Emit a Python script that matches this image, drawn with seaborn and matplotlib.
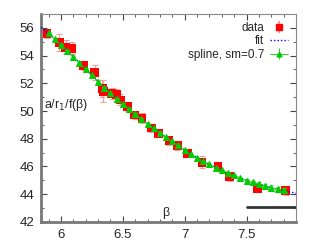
import numpy as np
import pandas as pd
import matplotlib
matplotlib.use("Agg")
import matplotlib.pyplot as plt
import seaborn as sns

# measured points
beta_data = [5.887, 5.986, 6.038, 6.089, 6.183, 6.274, 6.333, 6.344, 6.41, 6.449, 6.48, 6.54,
             6.597, 6.655, 6.731, 6.787, 6.873, 6.941, 7.022, 7.14, 7.269, 7.363, 7.589, 7.817]
ratio_data = [55.59, 54.94, 54.6, 54.53, 53.26, 52.78, 51.62, 51.43, 51.29, 51.17, 50.8, 50.32,
              49.72, 49.48, 48.78, 48.4, 47.87, 47.51, 46.96, 46.31, 46.0, 45.27, 44.43, 44.24]
ratio_err = [0.3, 0.6, 0.5, 0.45, 0.3, 0.55, 0.6, 0.8, 0.4, 0.45, 0.4, 0.35,
             0.3, 0.35, 0.3, 0.3, 0.3, 0.35, 0.3, 0.42, 0.3, 0.3, 0.3, 0.3]

# fit curve
beta_fit = [5.84, 5.9, 6.0, 6.1, 6.2, 6.3, 6.4, 6.5, 6.6, 6.7, 6.8, 6.9,
            7.0, 7.1, 7.2, 7.3, 7.4, 7.5, 7.6, 7.7, 7.8, 7.9]
ratio_fit = [56.05, 55.6, 54.77, 53.92, 53.04, 52.15, 51.28, 50.5, 49.78, 49.08, 48.43, 47.8,
             47.2, 46.65, 46.15, 45.72, 45.33, 44.98, 44.7, 44.46, 44.26, 44.07]

# smoothing spline
beta_spl = [5.9, 5.95, 6.0, 6.05, 6.1, 6.15, 6.2, 6.25, 6.3, 6.35, 6.4, 6.45, 6.5,
            6.55, 6.6, 6.65, 6.7, 6.75, 6.8, 6.85, 6.9, 6.95, 7.0, 7.05, 7.1, 7.15,
            7.2, 7.25, 7.3, 7.35, 7.4, 7.45, 7.5, 7.55, 7.6, 7.65, 7.7, 7.75, 7.8]
ratio_spl = [55.6, 55.2, 54.77, 54.35, 53.9, 53.46, 53.02, 52.57, 52.12, 51.68, 51.27, 50.87, 50.5,
             50.17, 49.78, 49.42, 49.08, 48.75, 48.43, 48.1, 47.81, 47.52, 47.2, 46.88, 46.6, 46.38,
             46.15, 45.92, 45.72, 45.53, 45.35, 45.17, 44.98, 44.85, 44.73, 44.6, 44.48, 44.37, 44.27]
spl_err = [0.1, 0.06, 0.05, 0.05, 0.05, 0.05, 0.05, 0.05, 0.05, 0.05, 0.05, 0.05, 0.05,
           0.05, 0.05, 0.05, 0.05, 0.05, 0.05, 0.05, 0.05, 0.05, 0.05, 0.05, 0.05, 0.05,
           0.05, 0.05, 0.05, 0.05, 0.06, 0.07, 0.08, 0.1, 0.12, 0.14, 0.16, 0.18, 0.2]

sns.set_style("ticks")
plt.rcParams['font.family'] = ['Liberation Sans', 'DejaVu Sans']
plt.rcParams['font.size'] = 9

fig = plt.figure(figsize=(3.16, 2.46), dpi=100)
ax = fig.add_axes([0.13, 0.098, 0.807, 0.845])

df_fit = pd.DataFrame({'beta': beta_fit, 'r': ratio_fit})
df_spl = pd.DataFrame({'beta': beta_spl, 'r': ratio_spl})
df_dat = pd.DataFrame({'beta': beta_data, 'r': ratio_data})

ax.errorbar(beta_data, ratio_data, yerr=ratio_err, fmt='none', ecolor='#f4a0a0',
            elinewidth=0.8, capsize=2, capthick=0.8, zorder=2)
sns.scatterplot(data=df_dat, x='beta', y='r', marker='s', color='red', s=40,
                edgecolor='none', ax=ax, zorder=3)
sns.lineplot(data=df_fit, x='beta', y='r', color='blue', lw=1, ls=(0, (1, 1.5)),
             ax=ax, zorder=4)
ax.errorbar(beta_spl, ratio_spl, yerr=spl_err, fmt='none', ecolor='#66dd66',
            elinewidth=0.6, capsize=1.5, zorder=4)
sns.lineplot(data=df_spl, x='beta', y='r', color='#00cc00', lw=0.6, marker='^',
             markersize=5, markeredgecolor='#00cc00', ax=ax, zorder=5)

ax.plot([7.5, 7.9], [43.08, 43.08], color='#333333', lw=2)

ax.set_xlim(5.84, 7.9)
ax.set_ylim(42, 57)
ax.set_xticks([6, 6.5, 7, 7.5])
ax.set_xticklabels(['6', '6.5', '7', '7.5'])
ax.set_yticks([42, 44, 46, 48, 50, 52, 54, 56])
ax.set_xticks(np.arange(5.9, 7.85, 0.1), minor=True)
ax.set_yticks(np.arange(43, 57, 2), minor=True)
ax.tick_params(which='both', direction='in', top=True, right=True, color='#444444')
ax.tick_params(which='major', length=4, labelsize=9.5, pad=5)
ax.tick_params(which='minor', length=2)
ax.set_xlabel('')
ax.set_ylabel('')
for s in ['left', 'bottom']:
    ax.spines[s].set_linewidth(2)
    ax.spines[s].set_color('#777777')
for s in ['right', 'top']:
    ax.spines[s].set_linewidth(0.8)
    ax.spines[s].set_color('#888888')

ax.text(0.01, 0.56, 'a/r$_1$/f(β)', transform=ax.transAxes, fontsize=9, va='center', ha='left')
ax.text(0.49, 0.045, 'β', transform=ax.transAxes, fontsize=9, va='center', ha='center')

h_data = ax.errorbar([], [], yerr=[], fmt='s', color='red', ecolor='#f4a0a0', ms=4.5, capsize=2)
h_fit, = ax.plot([], [], color='blue', lw=1, ls=(0, (1, 1.5)))
h_spl = ax.errorbar([], [], yerr=[], fmt='^-', color='#00cc00', ms=3.5, lw=0.6, capsize=1.5)
ax.legend([h_data, h_fit, h_spl], ['data', 'fit', 'spline, sm=0.7'], loc='upper right',
          frameon=False, markerfirst=False, fontsize=8.5, handlelength=1.5, handletextpad=0.5,
          borderaxespad=0.3, labelspacing=0.1)

fig.savefig('out.png', dpi=100)
